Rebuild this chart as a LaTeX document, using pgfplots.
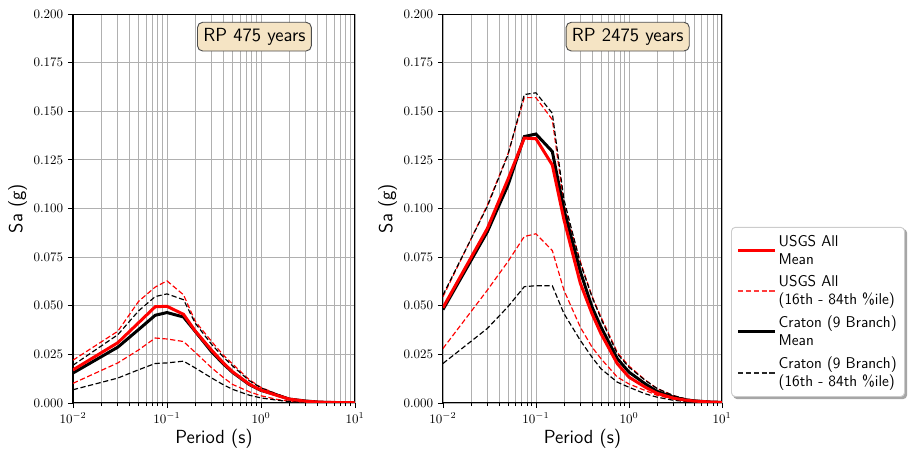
\documentclass[border=0pt]{standalone}
\usepackage{pgfplots}
\usepackage{pgfplotstable}
\pgfplotsset{compat=1.18}
\pgfdeclarelayer{background}
\pgfsetlayers{background,main}

\definecolor{gridgray}{RGB}{176,176,176}
\definecolor{wheatbox}{RGB}{245,228,196}
\definecolor{mplred}{RGB}{255,0,0}
\definecolor{lgdred}{RGB}{255,60,60}

\pgfplotstableread{
T      um      uu      ul      cm      cu      cl
0.01   0.0170  0.0220  0.0101  0.0154  0.0194  0.0068
0.03   0.0310  0.0369  0.0206  0.0287  0.0351  0.0128
0.05   0.0413  0.0523  0.0273  0.0378  0.0474  0.0171
0.075  0.0495  0.0596  0.0334  0.0451  0.0547  0.0203
0.1    0.0497  0.0628  0.0329  0.0465  0.0561  0.0206
0.15   0.0456  0.0556  0.0316  0.0442  0.0531  0.0215
0.2    0.0370  0.0420  0.0260  0.0368  0.0410  0.0180
0.3    0.0270  0.0315  0.0180  0.0262  0.0300  0.0128
0.4    0.0205  0.0245  0.0130  0.0200  0.0235  0.0093
0.5    0.0160  0.0200  0.0095  0.0157  0.0190  0.0070
0.75   0.0097  0.0120  0.0058  0.0095  0.0115  0.0040
1      0.0066  0.0080  0.0037  0.0065  0.0078  0.0026
1.5    0.0038  0.0045  0.0018  0.0040  0.0044  0.0014
2      0.0020  0.0023  0.0009  0.0020  0.0023  0.0007
3      0.0009  0.0011  0.0004  0.0010  0.0011  0.0003
4      0.0005  0.0006  0.0002  0.0005  0.0006  0.0002
5      0.0003  0.0004  0.0001  0.0003  0.0004  0.0001
7.5    0.0002  0.0002  0.0001  0.0001  0.0002  0.0000
10     0.0001  0.0001  0.0000  0.0001  0.0001  0.0000
}\rpA

\pgfplotstableread{
T      um      uu      ul      cm      cu      cl
0.01   0.0490  0.0546  0.0280  0.0480  0.0555  0.0203
0.03   0.0897  0.1017  0.0580  0.0880  0.1010  0.0383
0.05   0.1150  0.1280  0.0727  0.1120  0.1276  0.0495
0.075  0.1362  0.1570  0.0856  0.1370  0.1586  0.0598
0.1    0.1359  0.1570  0.0870  0.1383  0.1595  0.0603
0.15   0.1224  0.1457  0.0784  0.1293  0.1490  0.0603
0.2    0.0943  0.1020  0.0580  0.0995  0.1047  0.0460
0.3    0.0616  0.0728  0.0390  0.0676  0.0719  0.0322
0.4    0.0460  0.0550  0.0288  0.0495  0.0547  0.0236
0.5    0.0357  0.0443  0.0228  0.0391  0.0434  0.0176
0.75   0.0202  0.0260  0.0133  0.0228  0.0253  0.0107
1      0.0133  0.0190  0.0098  0.0159  0.0184  0.0081
1.5    0.0081  0.0118  0.0064  0.0098  0.0116  0.0047
2      0.0050  0.0075  0.0040  0.0060  0.0075  0.0030
3      0.0025  0.0038  0.0020  0.0030  0.0038  0.0014
4      0.0015  0.0022  0.0012  0.0017  0.0022  0.0008
5      0.0010  0.0014  0.0008  0.0011  0.0014  0.0005
7.5    0.0005  0.0007  0.0004  0.0005  0.0007  0.0002
10     0.0003  0.0004  0.0002  0.0003  0.0004  0.0001
}\rpB

\tikzset{
  meanR/.style={draw=mplred, line width=2.3pt},
  bandR/.style={draw=mplred, line width=0.9pt, dash pattern=on 4pt off 2pt},
  meanK/.style={draw=black, line width=2.3pt},
  bandK/.style={draw=black, line width=0.9pt, dash pattern=on 4pt off 2pt},
  rpbox/.style={anchor=north west, fill=wheatbox, draw=black!70, line width=0.7pt,
    rounded corners=4pt, inner sep=4.5pt, font=\sffamily\fontsize{14.6}{17}\selectfont},
}

\pgfplotsset{
  panelstyle/.style={
    scale only axis,
    height=299.2pt,
    xmin=0.01, xmax=10,
    ymin=0, ymax=0.2,
    xtick={0.01,0.1,1,10},
    ytick={0,0.025,0.05,0.075,0.1,0.125,0.15,0.175,0.2},
    scaled y ticks=false,
    yticklabel style={/pgf/number format/.cd, fixed, fixed zerofill, precision=3},
    tick label style={font=\fontsize{10}{12}\selectfont},
    grid=both,
    major grid style={gridgray, line width=0.6pt},
    minor grid style={gridgray, line width=0.6pt},
    tick align=outside,
    tick pos=left,
    major tick length=4pt,
    minor tick length=2.5pt,
    every tick/.style={black, line width=0.6pt},
    axis line style={black, line width=0.8pt},
    xlabel={Period (s)},
    ylabel={Sa (g)},
    label style={font=\sffamily\fontsize{14.6}{17}\selectfont},
    ylabel style={yshift=-2pt},
    xlabel style={yshift=2pt},
  },
}

\begin{document}
\begin{tikzpicture}
\begin{semilogxaxis}[panelstyle, width=216.9pt, at={(0pt,0pt)}, anchor=south west]
  \addplot[bandR] table[x=T, y=uu] {\rpA};
  \addplot[bandR] table[x=T, y=ul] {\rpA};
  \addplot[bandK] table[x=T, y=cu] {\rpA};
  \addplot[bandK] table[x=T, y=cl] {\rpA};
  \addplot[meanK] table[x=T, y=cm] {\rpA};
  \addplot[meanR] table[x=T, y=um] {\rpA};
  \node[rpbox] at (rel axis cs:0.44,0.98) {RP 475 years};
\end{semilogxaxis}

\begin{semilogxaxis}[panelstyle, width=214.6pt, at={(284.6pt,0pt)}, anchor=south west,
  legend style={name=lgd, at={(1,0)}, anchor=south west, xshift=7pt, yshift=4.6pt,
    draw=black!20, line width=0.7pt, rounded corners=3pt, fill=white,
    font=\sffamily\fontsize{12}{14}\selectfont,
    cells={align=left, anchor=west}, row sep=3pt, inner sep=4pt},
  legend cell align=left]
  \addlegendimage{legend image code/.code={\draw[draw=mplred, line width=2.3pt, solid] (0pt,0pt) -- (28pt,0pt);}}
  \addlegendentry{USGS All\\Mean}
  \addlegendimage{legend image code/.code={\draw[draw=lgdred, line width=1.3pt, sharp corners, dash pattern=on 4pt off 2pt] (0pt,0pt) -- (28pt,0pt);}}
  \addlegendentry{USGS All\\(16th - 84th \%ile)}
  \addlegendimage{legend image code/.code={\draw[draw=black, line width=2.3pt, solid] (0pt,0pt) -- (28pt,0pt);}}
  \addlegendentry{Craton (9 Branch)\\Mean}
  \addlegendimage{legend image code/.code={\draw[draw=black!85, line width=1.1pt, sharp corners, dash pattern=on 4pt off 2pt] (0pt,0pt) -- (28pt,0pt);}}
  \addlegendentry{Craton (9 Branch)\\(16th - 84th \%ile)}
  \addplot[bandR, forget plot] table[x=T, y=uu] {\rpB};
  \addplot[bandR, forget plot] table[x=T, y=ul] {\rpB};
  \addplot[bandK, forget plot] table[x=T, y=cu] {\rpB};
  \addplot[bandK, forget plot] table[x=T, y=cl] {\rpB};
  \addplot[meanK, forget plot] table[x=T, y=cm] {\rpB};
  \addplot[meanR, forget plot] table[x=T, y=um] {\rpB};
  \node[rpbox] at (rel axis cs:0.44,0.98) {RP 2475 years};
\end{semilogxaxis}
\begin{pgfonlayer}{background}
  \fill[black!35, rounded corners=3pt]
    ([shift={(1.6pt,-1.6pt)}]lgd.south west) rectangle ([shift={(1.6pt,-1.6pt)}]lgd.north east);
\end{pgfonlayer}
\pgfresetboundingbox
\path (-56.15pt,-37.7pt) rectangle (646.2pt,310pt);
\end{tikzpicture}
\end{document}
